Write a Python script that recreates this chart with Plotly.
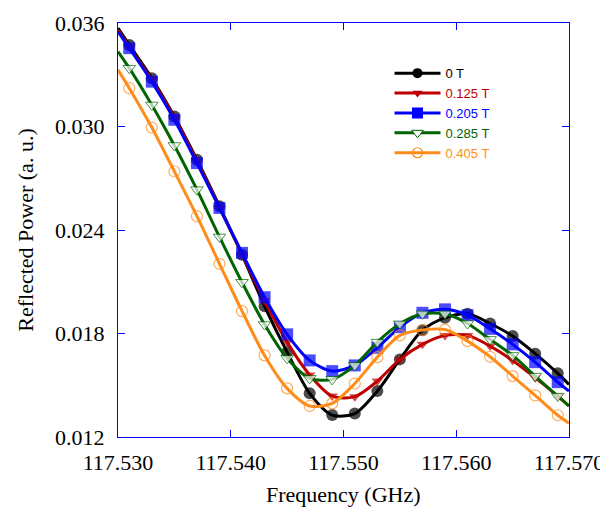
import plotly.graph_objects as go

freq = [117.530, 117.531, 117.533, 117.535, 117.537, 117.539, 117.541, 117.543,
        117.545, 117.547, 117.549, 117.551, 117.553, 117.555, 117.557, 117.559,
        117.561, 117.563, 117.565, 117.567, 117.569, 117.570]

p_0T = [0.0357, 0.03473, 0.0328, 0.03058, 0.02807, 0.02537, 0.02257, 0.01958,
        0.01692, 0.01453, 0.01327, 0.01336, 0.01466, 0.0165, 0.01819, 0.01891,
        0.01914, 0.01858, 0.01785, 0.01683, 0.01569, 0.01505]
p_0125T = [0.0356, 0.0346, 0.0327, 0.0305, 0.0280, 0.0253, 0.0226, 0.0199,
           0.0175, 0.0156, 0.01437, 0.01434, 0.01524, 0.0165, 0.01737, 0.01789,
           0.01789, 0.01727, 0.01644, 0.01544, 0.01437, 0.0138]
p_0205T = [0.0355, 0.03454, 0.0326, 0.03039, 0.02788, 0.02528, 0.02267, 0.0201,
           0.01795, 0.01644, 0.01582, 0.01615, 0.01717, 0.01837, 0.0192, 0.0194,
           0.01906, 0.01827, 0.01737, 0.01634, 0.01518, 0.01466]
p_0285T = [0.03434, 0.03338, 0.03125, 0.0289, 0.02634, 0.0236, 0.02097, 0.01852,
           0.01656, 0.0154, 0.01534, 0.01615, 0.0175, 0.01856, 0.01914, 0.01914,
           0.01858, 0.01766, 0.01673, 0.01553, 0.01437, 0.0138]
p_0405T = [0.03328, 0.03222, 0.02994, 0.02739, 0.0248, 0.02204, 0.0193, 0.01673,
           0.01482, 0.0138, 0.01395, 0.0151, 0.01663, 0.01789, 0.0182, 0.01823,
           0.01756, 0.01665, 0.01553, 0.01441, 0.01326, 0.0128]

labels = ["0 T", "0.125 T", "0.205 T", "0.285 T", "0.405 T"]
series = [p_0T, p_0125T, p_0205T, p_0285T, p_0405T]
colors = ["#000000", "#C00000", "#0000FF", "#006400", "#FF8C1A"]
symbols = ["circle", "triangle-down", "square", "triangle-down", "circle-open"]
msizes = [12, 10, 12, 11, 11]
legend_sizes = [10, 9, 11, 10, 10]
mfill = ["#000000", "#C00000", "#0000FF", "#FFFFFF", "#FF8C1A"]
mline = [0, 0, 0, 1, 1.2]

x_title = "Frequency (GHz)"
y_title = "Reflected Power (a. u.)"

fig = go.Figure()
for lab, ys, c, s, ms, ls, mf, ml in zip(labels, series, colors, symbols, msizes,
                                         legend_sizes, mfill, mline):
    sizes = [0] + [ms] * (len(freq) - 2) + [0]
    fig.add_trace(go.Scatter(
        x=freq, y=ys, mode="lines+markers", showlegend=False, legendgroup=lab,
        line=dict(color=c, width=3, shape="spline", smoothing=0.8),
        marker=dict(symbol=s, size=sizes, color=mf, line=dict(color=c, width=ml)),
        hoverinfo="x+y",
    ))
    # legend entry
    fig.add_trace(go.Scatter(
        x=[None], y=[None], mode="lines+markers", legendgroup=lab,
        name='<span style="color:%s">%s</span>' % (c, lab),
        line=dict(color=c, width=3),
        marker=dict(symbol=s, size=ls, color=mf, line=dict(color=c, width=ml)),
    ))

axis_common = dict(
    showline=True, linecolor="#0000FF", linewidth=1.2, mirror="ticks",
    ticks="inside", ticklen=7, tickcolor="#0000FF", tickwidth=1.2,
    showgrid=False, zeroline=False, ticklabeloverflow="allow", automargin=False,
    tickfont=dict(family="Liberation Serif", size=22, color="#000000"),
)

fig.update_layout(
    width=600, height=500,
    margin=dict(l=110, r=38.5, t=15, b=70.5),
    paper_bgcolor="white", plot_bgcolor="white",
    showlegend=True,
    legend=dict(x=0.602, y=0.915, xanchor="left", yanchor="top",
                bgcolor="rgba(0,0,0,0)", font=dict(family="Liberation Sans", size=13),
                tracegroupgap=0, itemwidth=46),
    xaxis=dict(range=[117.530, 117.570], tickvals=[117.530, 117.540, 117.550, 117.560, 117.570],
               tickformat=".3f", ticklabelstandoff=5,
               **axis_common),
    yaxis=dict(range=[0.012, 0.036], tickvals=[0.012, 0.018, 0.024, 0.030, 0.036],
               tickformat=".3f", ticklabelstandoff=8,
               title=dict(text=y_title, font=dict(family="Liberation Serif", size=22, color="#000000")),
               **axis_common),
    annotations=[dict(text=x_title, xref="paper", yref="paper", x=0.5, y=-0.1387,
                      xanchor="center", yanchor="middle", showarrow=False,
                      font=dict(family="Liberation Serif", size=22, color="#000000"))],
)

fig.write_html("out.html")
